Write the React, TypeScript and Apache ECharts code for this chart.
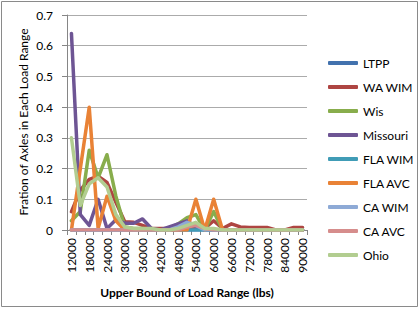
import React, { useEffect, useRef } from "react";
import * as echarts from "echarts";

const categories = [
  "12000", "15000", "18000", "21000", "24000", "27000", "30000", "33000", "36000",
  "39000", "42000", "45000", "48000", "51000", "54000", "57000", "60000", "63000",
  "66000", "69000", "72000", "75000", "78000", "81000", "84000", "87000", "90000",
];

const ltpp = [0, 0, 0, 0, 0, 0, 0, 0, 0, 0, 0, 0, 0, 0, 0, 0, 0, 0, 0, 0, 0, 0, 0, 0, 0, 0, 0];
const waWim = [0.06, 0.13, 0.165, 0.175, 0.155, 0.09, 0.027, 0.025, 0.015, 0.005, 0.005, 0.005, 0.005, 0.005, 0.01, 0.005, 0.03, 0.005, 0.02, 0.01, 0.008, 0.008, 0.008, 0, 0, 0.008, 0.008];
const wis = [0.03, 0.06, 0.26, 0.17, 0.245, 0.11, 0.01, 0.005, 0.005, 0, 0, 0.005, 0.02, 0.04, 0.05, 0, 0.06, 0, 0, 0, 0, 0, 0, 0, 0, 0, 0];
const missouri = [0.64, 0.05, 0.015, 0.1, 0.005, 0.033, 0.022, 0.022, 0.036, 0.005, 0, 0.01, 0.02, 0.03, 0.01, 0, 0, 0, 0, 0, 0, 0, 0, 0, 0, 0, 0];
const flaWim = [0, 0, 0, 0, 0, 0, 0, 0, 0, 0, 0, 0, 0, 0, 0, 0, 0, 0, 0, 0, 0, 0, 0, 0, 0, 0, 0];
const flaAvc = [0, 0.2, 0.4, 0.005, 0.11, 0.03, 0, 0, 0, 0, 0, 0, 0, 0, 0.1, 0, 0.1, 0, 0, 0, 0, 0, 0, 0, 0, 0, 0];
const caWim = [0, 0, 0, 0, 0, 0, 0, 0, 0, 0, 0, 0, 0.01, 0.025, 0.015, 0, 0, 0, 0, 0, 0, 0, 0, 0, 0, 0, 0];
const caAvc = [0, 0, 0, 0, 0, 0, 0, 0, 0, 0, 0, 0, 0, 0.01, 0.015, 0.005, 0, 0, 0, 0, 0, 0, 0, 0, 0, 0, 0];
const ohio = [0.3, 0.08, 0.15, 0.17, 0.14, 0.05, 0.01, 0.005, 0.005, 0.005, 0, 0, 0.005, 0.015, 0.025, 0.005, 0.005, 0, 0, 0, 0, 0, 0, 0, 0, 0, 0];

const seriesNames = ["LTPP", "WA WIM", "Wis", "Missouri", "FLA WIM", "FLA AVC", "CA WIM", "CA AVC", "Ohio"];
const seriesData = [ltpp, waWim, wis, missouri, flaWim, flaAvc, caWim, caAvc, ohio];
const seriesColors = ["#4272AE", "#AE4542", "#88AD4C", "#6E5594", "#409CB6", "#E98236", "#8EAAD6", "#D68D8C", "#B2CD90"];

const yTitle = "Fration of Axles in Each Load Range";
const xTitle = "Upper Bound of Load Range (lbs)";

const FONT = "Lato, 'Open Sans', sans-serif";

export default function App() {
  const ref = useRef<HTMLDivElement>(null);
  useEffect(() => {
    if (!ref.current) return;
    const chart = echarts.init(ref.current, undefined, { renderer: "svg" });
    chart.setOption({
      animation: false,
      backgroundColor: "#ffffff",
      textStyle: { fontFamily: FONT },
      grid: { left: 67, top: 15, width: 240, height: 215, containLabel: false },
      legend: {
        orient: "vertical",
        left: 323,
        top: 51,
        itemWidth: 30,
        itemHeight: 4,
        itemGap: 10,
        icon: "roundRect",
        data: seriesNames,
        textStyle: { fontFamily: FONT, fontSize: 12, color: "#000", lineHeight: 14 },
      },
      xAxis: {
        type: "category",
        data: categories,
        boundaryGap: true,
        axisLine: { show: true, lineStyle: { color: "#868686", width: 1 } },
        axisTick: { show: true, interval: 0, alignWithLabel: false, length: 5, lineStyle: { color: "#868686" } },
        axisLabel: { interval: 1, rotate: 90, margin: 8, fontSize: 12, color: "#000", fontFamily: FONT },
        splitLine: { show: false },
      },
      yAxis: {
        type: "value",
        min: 0,
        max: 0.7,
        interval: 0.1,
        axisLine: { show: true, lineStyle: { color: "#868686", width: 1 } },
        axisTick: { show: true, length: 5, lineStyle: { color: "#868686" } },
        axisLabel: { margin: 14, fontSize: 12, color: "#000", fontFamily: FONT },
        splitLine: { show: true, lineStyle: { color: "#ababab", width: 1 } },
      },
      series: seriesNames.map((name, i) => ({
        name,
        type: "line",
        data: seriesData[i],
        symbol: "none",
        color: seriesColors[i],
        lineStyle: { width: 3.5, color: seriesColors[i], cap: "round", join: "round" },
        z: 2 + i,
      })),
      graphic: [
        {
          type: "rect",
          shape: { x: 1.5, y: 1.5, width: 416, height: 305 },
          style: { fill: "none", stroke: "#8a8a8a", lineWidth: 1 },
          silent: true,
        },
        {
          type: "text",
          x: 23,
          y: 122,
          rotation: Math.PI / 2,
          style: {
            text: yTitle,
            fontFamily: FONT,
            fontSize: 12,
            fill: "#000",
            textAlign: "center",
            textVerticalAlign: "middle",
          },
        },
        {
          type: "text",
          x: 187,
          y: 292,
          style: {
            text: xTitle,
            fontFamily: FONT,
            fontSize: 12,
            fontWeight: "bold",
            fill: "#000",
            textAlign: "center",
            textVerticalAlign: "middle",
          },
        },
      ],
    });
    return () => chart.dispose();
  }, []);
  return (
    <div
      ref={ref}
      style={{ position: "fixed", left: 0, top: 0, width: 420, height: 310, background: "#fff" }}
    />
  );
}
